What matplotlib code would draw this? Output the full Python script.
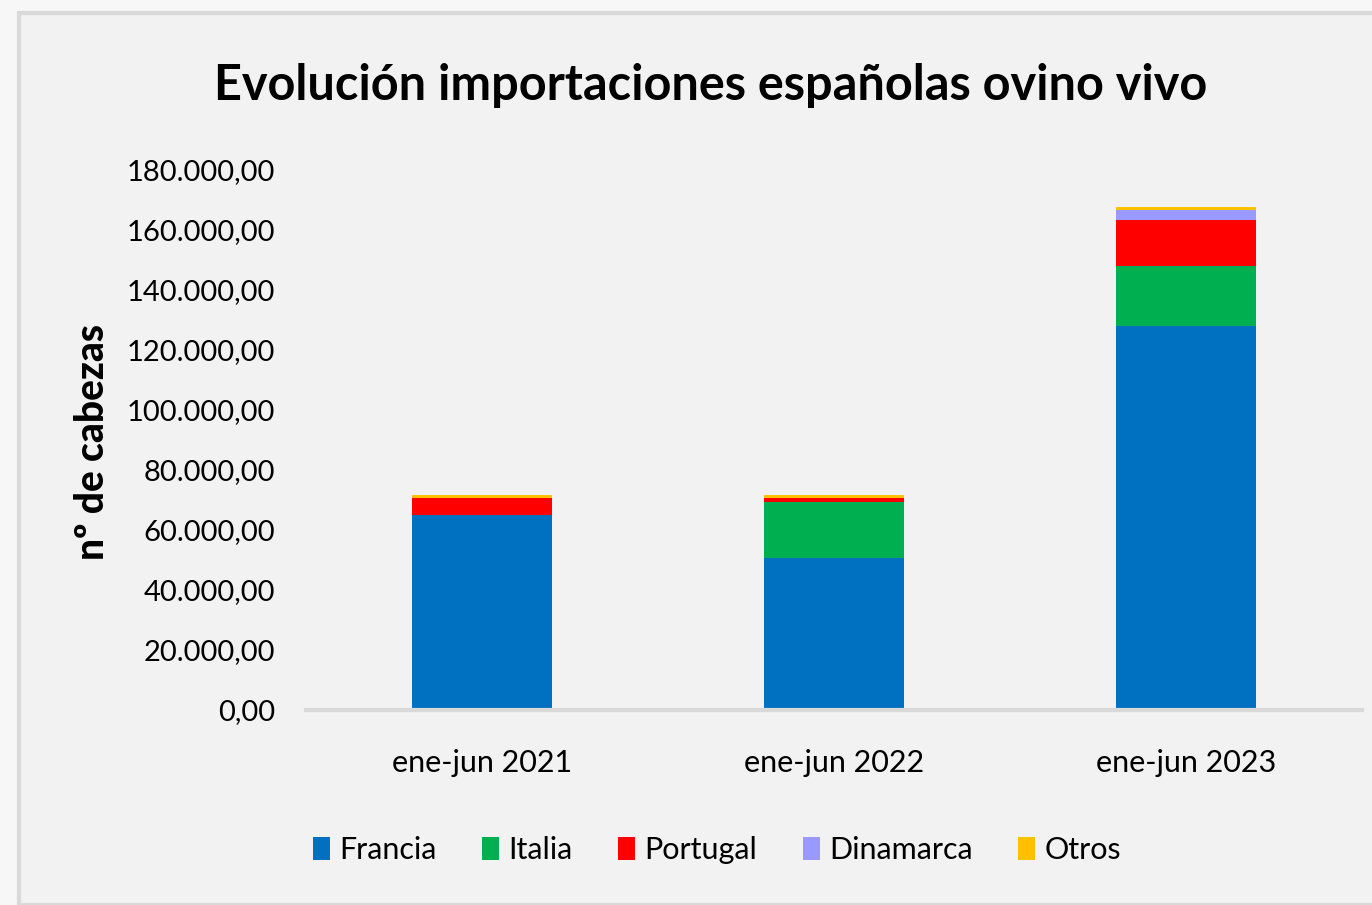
import matplotlib
matplotlib.use("Agg")
import matplotlib.pyplot as plt
import numpy as np
from matplotlib.patches import Rectangle

categories = ["ene-jun 2021", "ene-jun 2022", "ene-jun 2023"]
series_names = ["Francia", "Italia", "Portugal", "Dinamarca", "Otros"]
francia = [65000, 50700, 128000]
italia = [0, 18600, 20000]
portugal = [5700, 1400, 15300]
dinamarca = [0, 0, 3300]
otros = [1000, 1000, 1000]
colors = ["#0070C0", "#00B050", "#FF0000", "#9999FF", "#FFC000"]
yticks = list(range(0, 180001, 20000))

def fmt(v):
    s = f"{v:,.2f}"
    return s.replace(",", "X").replace(".", ",").replace("X", ".")

plt.rcParams['font.family'] = ['Lato', 'DejaVu Sans']
W, H = 1372, 905
fig = plt.figure(figsize=(W/100, H/100), dpi=100)
fig.patch.set_facecolor("#f7f7f7")
bg = Rectangle((19/W, 0), 1, 1 - 13/H, transform=fig.transFigure,
               facecolor="#f2f2f2", edgecolor="#d9d9d9", linewidth=3, zorder=-10)
fig.patches.append(bg)

ax = fig.add_axes([306/W, 1 - 710/H, (1362-306)/W, (710-170)/H])
ax.set_facecolor("none")
x = np.arange(len(categories))
bottom = np.zeros(len(categories))
for name, vals, c in zip(series_names, [francia, italia, portugal, dinamarca, otros], colors):
    ax.bar(x, vals, 0.4, bottom=bottom, color=c, label=name, zorder=2)
    bottom += np.array(vals)

ax.set_xlim(-0.5, 2.5)
ax.set_ylim(0, 180000)
ax.set_yticks(yticks)
ax.set_yticklabels([fmt(v) for v in yticks], fontsize=21)
ax.set_xticks(x)
ax.set_xticklabels(categories, fontsize=22)
ax.tick_params(axis='y', length=0, pad=22)
ax.tick_params(axis='x', length=0, pad=28)
for s in ["top", "right", "left"]:
    ax.spines[s].set_visible(False)
ax.spines["bottom"].set_color("#d9d9d9")
ax.spines["bottom"].set_linewidth(3)

fig.text(92/W, 1 - 442/H, "nº de cabezas", rotation=90, fontsize=28, fontweight="black",
         ha="center", va="center")
fig.text(711/W, 1 - 85/H, "Evolución importaciones españolas ovino vivo", fontsize=35,
         fontweight="bold", ha="center", va="center")

handles, labels = ax.get_legend_handles_labels()
fig.legend(handles, labels, ncol=5, loc="center", bbox_to_anchor=(717/W, 1 - 850/H),
           frameon=False, fontsize=22, handlelength=0.55, handleheight=0.8,
           handletextpad=0.3, columnspacing=1.5)

fig.savefig("out.png", dpi=100, facecolor=fig.get_facecolor())
